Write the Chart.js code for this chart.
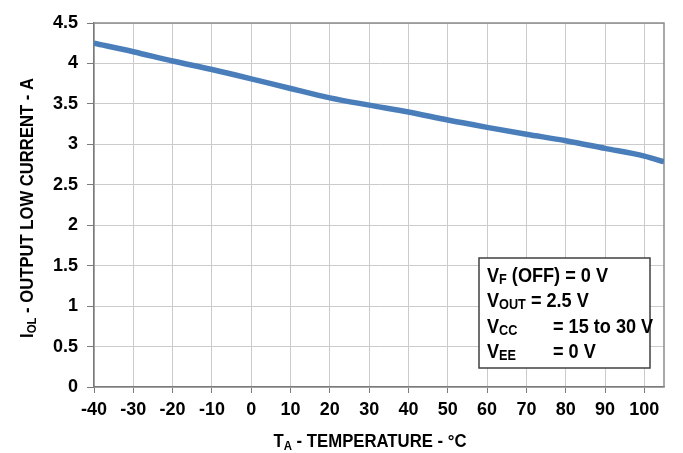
<!DOCTYPE html>
<html>
<head>
<meta charset="utf-8">
<script src="https://cdn.jsdelivr.net/npm/chart.js@4/dist/chart.umd.min.js"></script>
<style>
html,body{margin:0;padding:0;background:#fff;}
#wrap{width:683px;height:453px;position:relative;}
</style>
</head>
<body>
<div id="wrap"><canvas id="c" width="683" height="453"></canvas></div>
<script>
// ---- data ----
const temperatures = [-40, -30, -20, -10, 0, 10, 20, 30, 40, 50, 60, 70, 80, 90, 100, 105];
const outputLowCurrent = [4.25, 4.145, 4.03, 3.925, 3.81, 3.69, 3.575, 3.485, 3.40, 3.30, 3.21, 3.125, 3.045, 2.95, 2.855, 2.785];
const xTickValues = [-40, -30, -20, -10, 0, 10, 20, 30, 40, 50, 60, 70, 80, 90, 100];
const yTickLabels = ['0', '0.5', '1', '1.5', '2', '2.5', '3', '3.5', '4', '4.5'];
const xTitleParts = ['T', 'A', ' - TEMPERATURE - °C'];
const yTitleParts = ['I', 'OL', ' - OUTPUT LOW CURRENT - A'];
const conditionLines = [
  ['V', 'F', ' (OFF) = 0 V'],
  ['V', 'OUT', ' = 2.5 V'],
  ['V', 'CC', '   = 15 to 30 V'],
  ['V', 'EE', '   = 0 V']
];

const FONT = "'Liberation Sans', Arial, sans-serif";
const LINE_COLOR = '#4a7ebb';

function richWidth(ctx, parts, big, small) {
  let w = 0;
  parts.forEach((p, i) => {
    ctx.font = 'bold ' + (i === 1 ? small : big) + 'px ' + FONT;
    w += ctx.measureText(p).width;
  });
  return w;
}
function drawRich(ctx, parts, x, y, big, small, subDy) {
  let cx = x;
  parts.forEach((p, i) => {
    ctx.font = 'bold ' + (i === 1 ? small : big) + 'px ' + FONT;
    ctx.fillText(p, cx, y + (i === 1 ? subDy : 0));
    cx += ctx.measureText(p).width;
  });
  return cx;
}
// draw rich text squeezed horizontally to a target width, centred at (cx, y)
function drawRichFit(ctx, parts, cx, y, big, small, subDy, target) {
  const w = richWidth(ctx, parts, big, small);
  const k = target / w;
  ctx.save();
  ctx.translate(cx - target / 2, y);
  ctx.scale(k, 1);
  drawRich(ctx, parts, 0, 0, big, small, subDy);
  ctx.restore();
}

const decor = {
  id: 'decor',
  beforeDatasetsDraw(chart) {
    const {ctx, chartArea: a} = chart;
    ctx.save();
    ctx.strokeStyle = '#8c8c8c';
    ctx.lineWidth = 1.5;
    ctx.beginPath();
    ctx.moveTo(a.left, a.top);
    ctx.lineTo(a.right, a.top);
    ctx.lineTo(a.right, a.bottom);
    ctx.stroke();
    ctx.restore();
  },
  afterDraw(chart) {
    const {ctx, chartArea: a} = chart;
    ctx.save();
    ctx.fillStyle = '#000';
    ctx.textBaseline = 'alphabetic';
    // x title
    drawRichFit(ctx, xTitleParts, 370, 447, 19, 13, 3, 193);
    // y title
    ctx.save();
    ctx.translate(33, (a.top + a.bottom) / 2 + 3);
    ctx.rotate(-Math.PI / 2);
    drawRichFit(ctx, yTitleParts, 0, 0, 19, 13, 3, 260);
    ctx.restore();
    // conditions box
    const bx = 479, by = 258, bw = 171, bh = 110;
    ctx.fillStyle = '#fff';
    ctx.fillRect(bx, by, bw, bh);
    ctx.strokeStyle = '#404040';
    ctx.lineWidth = 1.5;
    ctx.strokeRect(bx, by, bw, bh);
    ctx.fillStyle = '#000';
    const w0 = richWidth(ctx, conditionLines[0], 20, 14);
    const k = 121 / w0;
    conditionLines.forEach((parts, i) => {
      const y = 282 + i * 25.3;
      ctx.save();
      ctx.translate(487, y);
      ctx.scale(k, 1);
      ctx.font = 'bold 20px ' + FONT;
      let cx = 0;
      ctx.fillText(parts[0], cx, 0);
      cx += ctx.measureText(parts[0]).width;
      ctx.font = 'bold 14px ' + FONT;
      ctx.fillText(parts[1], cx, 2);
      cx += ctx.measureText(parts[1]).width;
      ctx.font = 'bold 20px ' + FONT;
      const rest = parts[2];
      if (rest.startsWith('   ')) {
        ctx.fillText(rest.trim(), (553 - 487) / k, 0);
      } else {
        ctx.fillText(rest, cx, 0);
      }
      ctx.restore();
    });
    ctx.restore();
  }
};

new Chart(document.getElementById('c'), {
  type: 'line',
  data: {
    datasets: [{
      data: temperatures.map((t, i) => ({x: t, y: outputLowCurrent[i]})),
      borderColor: LINE_COLOR,
      borderWidth: 5.5,
      pointRadius: 0,
      cubicInterpolationMode: 'monotone',
      fill: false
    }]
  },
  options: {
    responsive: false,
    animation: false,
    events: [],
    layout: {padding: {left: 0, right: 19, top: 23, bottom: 0}},
    plugins: {legend: {display: false}, tooltip: {enabled: false}},
    scales: {
      x: {
        type: 'linear',
        min: -40,
        max: 105,
        afterBuildTicks(s) { s.ticks = xTickValues.map(v => ({value: v})); },
        afterFit(s) { s.height = 66; },
        ticks: {
          color: '#000',
          font: {family: FONT, size: 18, weight: 'bold'},
          padding: 6,
          maxRotation: 0,
          autoSkip: false,
          callback: v => String(v)
        },
        grid: {color: '#cbcbcb', lineWidth: 1, tickColor: '#7a7a7a', tickLength: 6},
        border: {color: '#7a7a7a', width: 1.5}
      },
      y: {
        min: 0,
        max: 4.5,
        afterFit(s) { s.width = 94; },
        ticks: {
          stepSize: 0.5,
          color: '#000',
          font: {family: FONT, size: 18, weight: 'bold'},
          padding: 9,
          callback: (v) => yTickLabels[Math.round(v * 2)]
        },
        grid: {color: '#cbcbcb', lineWidth: 1, tickColor: '#7a7a7a', tickLength: 7},
        border: {color: '#7a7a7a', width: 1.5}
      }
    }
  },
  plugins: [decor]
});
</script>
</body>
</html>
